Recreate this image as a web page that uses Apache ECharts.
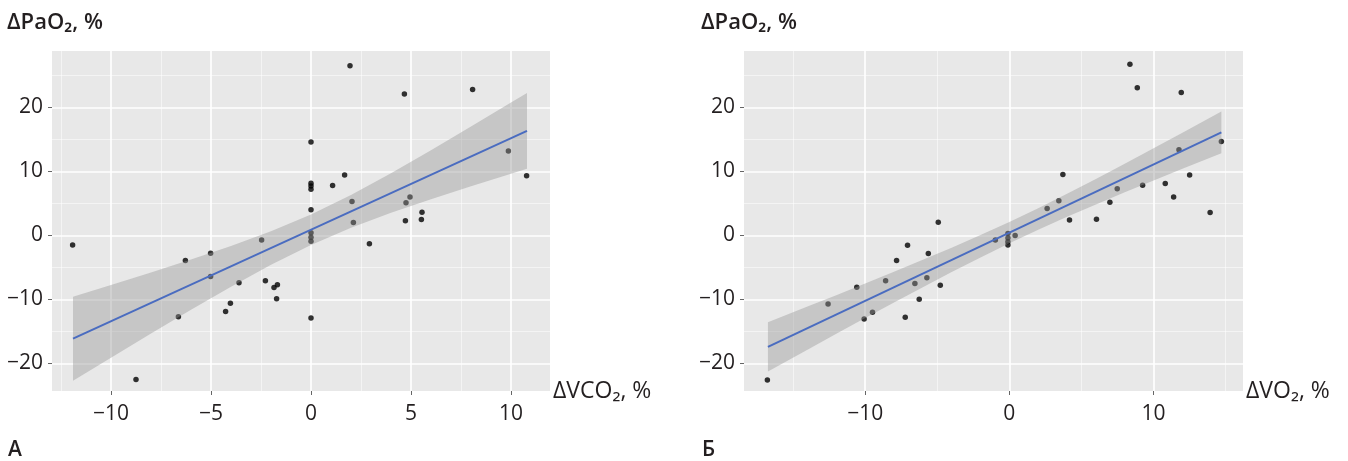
<!DOCTYPE html>
<html>
<head>
<meta charset="utf-8">
<script src="https://cdn.jsdelivr.net/npm/echarts@6/dist/echarts.min.js"></script>
<style>
  html, body { margin: 0; background: #fff; }
  #chart { width: 1348px; height: 461px; }
</style>
</head>
<body>
<div id="chart"></div>
<script>
// ---- panel А: ΔVCO2 vs ΔPaO2 ----
const vco2 = [1.95, 4.67, 8.08, 0, 9.87, 10.78, 1.68, 1.08, 0, 0, 0, 2.05, 4.95, 4.75, 0, 5.55, 5.52, 4.72, 2.12,
  -11.92, -8.75, -6.28, -5.02, -5.02, -6.63, -3.6, -4.03, -4.27, -2.47, -2.28, -1.85, -1.68, -1.72, 0, 0, 0, 0, 2.92]
const paO2A = [26.5, 22.1, 22.8, 14.6, 13.2, 9.3, 9.45, 7.8, 8.15, 7.7, 7.2, 5.3, 6.0, 5.1, 4.0, 3.6, 2.5, 2.3, 2.0,
  -1.5, -22.5, -3.9, -2.8, -6.4, -12.7, -7.4, -10.6, -11.9, -0.7, -7.1, -8.15, -7.7, -9.9, -12.9, 0.4, -0.3, -0.9, -1.3]
const fitAx = [-11.9, 10.8]
const fitAy = [-16.13, 16.33]
const bandAx  = [-11.9, -10, -8, -6, -4, -2, 0, 2, 4, 6, 8, 10, 10.8]
const bandAlo = [-22.69, -19.09, -15.32, -11.61, -8.0, -4.58, -1.49, 1.19, 3.52, 5.65, 7.67, 9.63, 10.4]
const bandAhi = [-9.57, -7.73, -5.78, -3.77, -1.66, 0.64, 3.27, 6.31, 9.7, 13.29, 16.99, 20.75, 22.26]

// ---- panel Б: ΔVO2 vs ΔPaO2 ----
const vo2 = [8.36, 8.87, 11.92, 14.7, 11.76, 3.71, 12.5, 9.24, 10.81, 7.48, 11.39, 3.43, 6.97, 2.62, 13.92, 4.17, 6.04,
  -4.93, -16.78, -12.57, -10.58, -10.07, -9.49, -8.58, -7.82, -7.06, -7.22, -6.55, -6.25, -5.72, -5.62, -4.79,
  -0.97, -0.1, -0.1, -0.1, -0.1, 0.4]
const paO2B = [26.75, 23.05, 22.3, 14.66, 13.36, 9.5, 9.45, 7.84, 8.1, 7.27, 6.0, 5.4, 5.18, 4.19, 3.57, 2.42, 2.52,
  2.06, -22.6, -10.7, -8.1, -13.05, -12.0, -7.1, -3.93, -1.54, -12.8, -7.5, -9.97, -6.6, -2.84, -7.8,
  -0.7, 0.3, -0.4, -1.0, -1.5, 0]
const fitBx = [-16.74, 14.7]
const fitBy = [-17.4, 16.1]
const bandBx  = [-16.74, -14, -12, -10, -8, -6, -4, -2, 0, 2, 4, 6, 8, 10, 12, 14.7]
const bandBlo = [-21.24, -17.84, -15.37, -12.91, -10.47, -8.08, -5.72, -3.44, -1.23, 0.88, 2.9, 4.84, 6.73, 8.59, 10.41, 12.83]
const bandBhi = [-13.56, -11.12, -9.33, -7.53, -5.69, -3.82, -1.92, 0.06, 2.11, 4.26, 6.5, 8.82, 11.19, 13.61, 16.05, 19.37]

// axes
const xRangeA = [-12.95, 11.95]
const xRangeB = [-18.4, 16.2]
const yRange = [-24.3, 28.8]
const xTicksA = [-10, -5, 0, 5, 10]
const xMinorA = [-12.5, -7.5, -2.5, 2.5, 7.5]
const xTicksB = [-10, 0, 10]
const xMinorB = [-15, -5, 5, 15]
const yTicks = [-20, -10, 0, 10, 20]
const yMinor = [-15, -5, 5, 15, 25]

const FONT = '"Open Sans", "Noto Sans", sans-serif'
const TEXT = '#231f20'

const minus = v => String(v).replace('-', '\u2212')

function mainAxis(grid, range, ticks, isY, name) {
  return {
    type: 'value', gridIndex: grid, min: range[0], max: range[1],
    position: isY ? 'left' : 'bottom',
    axisLine: { show: false, onZero: false },
    axisTick: { show: true, length: 4, customValues: ticks, lineStyle: { color: '#666', width: 1 } },
    axisLabel: { customValues: ticks, formatter: minus, fontFamily: FONT, fontSize: 21, color: TEXT, margin: isY ? 9 : 13 },
    splitLine: { show: true, lineStyle: { color: '#ffffff', width: 1.6 } },
    name: name || '', nameLocation: 'end', nameGap: 3,
    nameTextStyle: { fontFamily: FONT, fontSize: 23, color: TEXT, align: 'left', verticalAlign: 'middle' }
  }
}

// second axis on the same grid, only used for the minor grid lines
function minorAxis(grid, range, ticks, isY) {
  return {
    type: 'value', gridIndex: grid, min: range[0], max: range[1],
    position: isY ? 'left' : 'bottom',
    axisLine: { show: false, onZero: false },
    axisTick: { show: false, customValues: ticks },
    axisLabel: { show: false, customValues: ticks },
    splitLine: { show: true, lineStyle: { color: 'rgba(255,255,255,0.65)', width: 0.8 } }
  }
}

function bandSeries(xs, lo, hi, axis) {
  return {
    type: 'custom', xAxisIndex: axis, yAxisIndex: axis, silent: true, z: 3,
    data: xs.map((x, i) => [x, lo[i], hi[i]]),
    encode: { x: 0, y: [1, 2] },
    renderItem(params, api) {
      if (params.dataIndex !== 0) return null
      const top = xs.map((x, i) => api.coord([x, hi[i]]))
      const bottom = xs.map((x, i) => api.coord([x, lo[i]])).reverse()
      return { type: 'polygon', shape: { points: top.concat(bottom) }, style: { fill: 'rgba(150,150,150,0.42)' } }
    }
  }
}

const chart = echarts.init(document.getElementById('chart'))

chart.setOption({
  animation: false,
  grid: [
    { left: 52, top: 51, width: 498, height: 340, show: true, backgroundColor: '#e8e8e8', borderWidth: 0 },
    { left: 744, top: 51, width: 499, height: 340, show: true, backgroundColor: '#e8e8e8', borderWidth: 0 }
  ],
  xAxis: [
    mainAxis(0, xRangeA, xTicksA, false, 'ΔVCO₂, %'),
    minorAxis(0, xRangeA, xMinorA, false),
    mainAxis(1, xRangeB, xTicksB, false, 'ΔVO₂, %'),
    minorAxis(1, xRangeB, xMinorB, false)
  ],
  yAxis: [
    mainAxis(0, yRange, yTicks, true),
    minorAxis(0, yRange, yMinor, true),
    mainAxis(1, yRange, yTicks, true),
    minorAxis(1, yRange, yMinor, true)
  ],
  graphic: [
    { type: 'text', left: 7, top: 12, style: { text: 'ΔPaO₂, %', font: '600 22px ' + FONT, fill: TEXT } },
    { type: 'text', left: 701, top: 12, style: { text: 'ΔPaO₂, %', font: '600 22px ' + FONT, fill: TEXT } },
    { type: 'text', left: 8, top: 440, style: { text: 'А', font: '600 21px ' + FONT, fill: TEXT } },
    { type: 'text', left: 702, top: 440, style: { text: 'Б', font: '600 21px ' + FONT, fill: TEXT } }
  ],
  series: [
    {
      type: 'scatter', xAxisIndex: 0, yAxisIndex: 0, symbolSize: 5.5, z: 2,
      itemStyle: { color: '#000' }, data: vco2.map((x, i) => [x, paO2A[i]])
    },
    bandSeries(bandAx, bandAlo, bandAhi, 0),
    {
      type: 'line', xAxisIndex: 0, yAxisIndex: 0, showSymbol: false, z: 4,
      lineStyle: { color: '#4a6cc0', width: 2 }, data: fitAx.map((x, i) => [x, fitAy[i]])
    },
    {
      type: 'scatter', xAxisIndex: 2, yAxisIndex: 2, symbolSize: 5.5, z: 2,
      itemStyle: { color: '#000' }, data: vo2.map((x, i) => [x, paO2B[i]])
    },
    bandSeries(bandBx, bandBlo, bandBhi, 2),
    {
      type: 'line', xAxisIndex: 2, yAxisIndex: 2, showSymbol: false, z: 4,
      lineStyle: { color: '#4a6cc0', width: 2 }, data: fitBx.map((x, i) => [x, fitBy[i]])
    }
  ]
})
</script>
</body>
</html>
